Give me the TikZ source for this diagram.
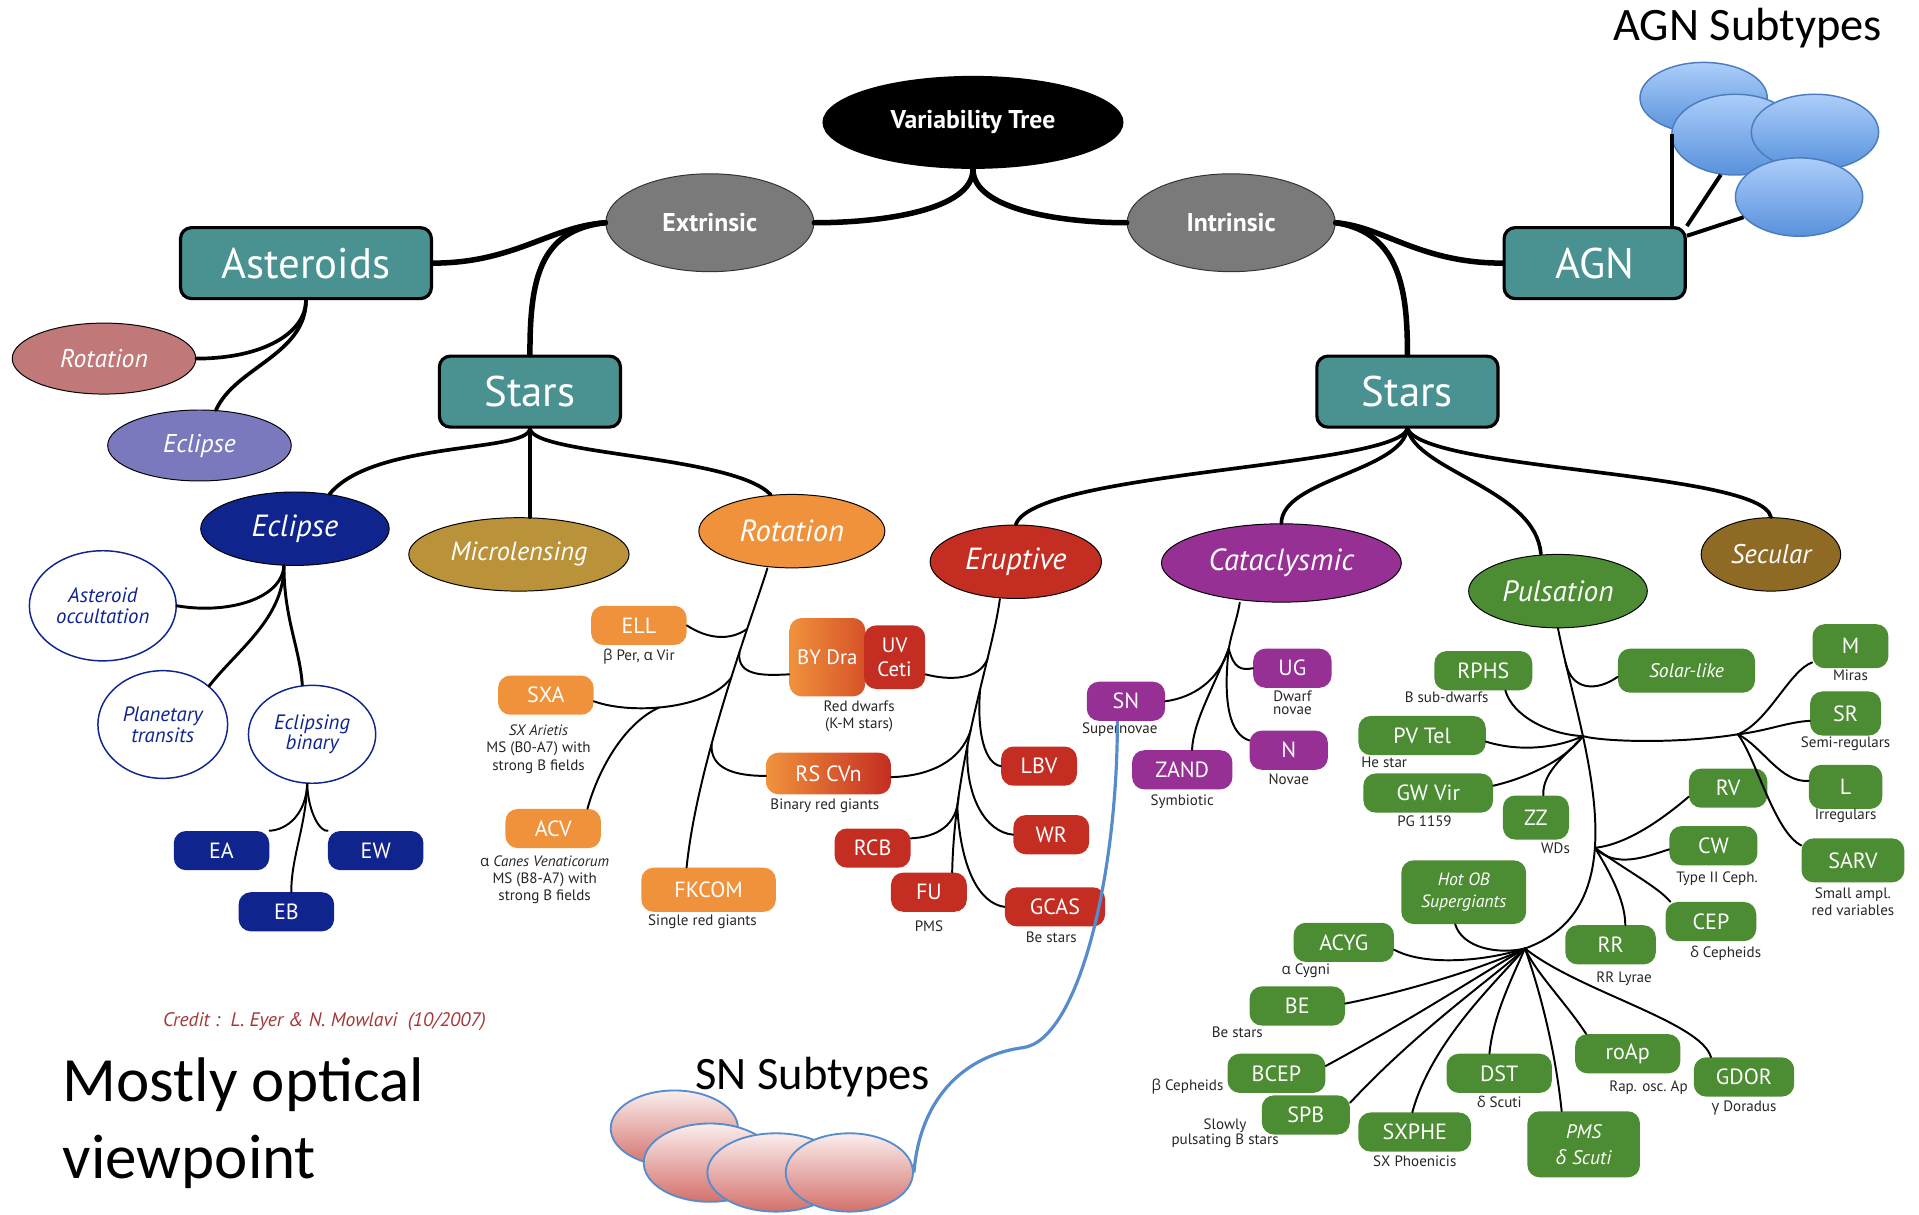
\documentclass[tikz,border=0pt]{standalone}
\usepackage{fontspec}
\setmainfont{PT Sans}
\newfontfamily\calib{Carlito}
\newfontfamily\grk{Open Sans}
\usetikzlibrary{positioning, shapes.geometric}

\definecolor{azulverde}{RGB}{74,145,145}
\definecolor{gris}{RGB}{122,122,122}
\definecolor{rosa}{RGB}{192,120,120}
\definecolor{lila}{RGB}{123,121,190}
\definecolor{marino}{RGB}{16,36,142}
\definecolor{oro}{RGB}{186,146,58}
\definecolor{naranja}{RGB}{240,146,60}
\definecolor{naranjarojo}{RGB}{214,82,40}
\definecolor{rojo}{RGB}{196,45,34}
\definecolor{morado}{RGB}{150,48,148}
\definecolor{verde}{RGB}{76,140,50}
\definecolor{cafe}{RGB}{142,106,36}
\definecolor{azulsn}{RGB}{86,140,204}
\definecolor{credito}{RGB}{165,55,55}
\definecolor{celeste}{RGB}{172,206,250}
\definecolor{celeste2}{RGB}{88,145,220}
\definecolor{bordeagn}{RGB}{75,125,190}
\definecolor{rosaclaro}{RGB}{250,238,238}
\definecolor{rosaosc}{RGB}{212,112,106}

\newcommand{\fsz}[1]{\fontsize{#1}{#1}\selectfont}
\newcommand{\fszl}[2]{\fontsize{#1}{#2}\selectfont}

\begin{document}
\begin{tikzpicture}[x=1pt, y=-1pt,
    raiz/.style={ellipse, fill=black, text=white, inner sep=0,
        minimum width=246, minimum height=76, font=\fsz{21}\bfseries},
    tipo/.style={ellipse, fill=gris, draw=black!80, line width=0.8, text=white,
        inner sep=0, minimum width=170, minimum height=80, font=\fsz{21}\bfseries},
    caja/.style={rectangle, rounded corners=9, fill=azulverde, draw=black,
        line width=2.6, text=white, inner sep=0, minimum width=148,
        minimum height=58, font=\fsz{35}},
    clase/.style={ellipse, draw=black, line width=0.8, text=white, inner sep=0,
        minimum height=60, font=\fsz{25}\itshape},
    blanca/.style={ellipse, draw=marino, line width=1.2, fill=white, text=marino,
        inner sep=0, align=center, font=\fszl{17}{17}\itshape},
    hoja/.style={rectangle, rounded corners=10, text=white, inner sep=2,
        minimum height=32, align=center, font=\fsz{18}},
    hojaN/.style={hoja, fill=marino},
    hojaO/.style={hoja, fill=naranja},
    hojaR/.style={hoja, fill=rojo},
    hojaM/.style={hoja, fill=morado},
    hojaV/.style={hoja, fill=verde},
    nota/.style={font=\fszl{12.3}{14}, text=black!85, align=center, inner sep=0},
    agnsub/.style={ellipse, draw=bordeagn, line width=1.2, top color=celeste,
        bottom color=celeste2, minimum width=104, minimum height=62},
    snsub/.style={ellipse, draw=azulsn, line width=1.5, top color=rosaclaro,
        bottom color=rosaosc, minimum width=104, minimum height=64},
    tronco/.style={line width=4.5, line cap=round},
    brazo/.style={line width=3, line cap=round},
    medio/.style={line width=2.4, line cap=round},
    fino/.style={line width=1.6, line cap=round},
    agnlink/.style={line width=3.2},
    snlink/.style={line width=2.6, draw=azulsn}
]
\useasboundingbox (0,0) rectangle (1568,992);

% Nodos
\node[raiz] (arbol) at (795,100) {Variability Tree};
\node[tipo] (extr) at (580,182) {Extrinsic};
\node[tipo] (intr) at (1006,182) {Intrinsic};
\node[caja, minimum width=205] (asteroides) at (250,215) {Asteroids};
\node[caja] (estrellasA) at (433,320) {Stars};
\node[caja] (estrellasB) at (1150,320) {Stars};
\node[caja] (agn) at (1303,215) {AGN};

% subtipos AGN
\node[agnsub, minimum height=58] (agn1) at (1392,80) {};
\node[agnsub, minimum height=66] (agn2) at (1418,110) {};
\node[agnsub, minimum height=62] (agn3) at (1483,108) {};
\node[agnsub, minimum height=64] (agn4) at (1470,161) {};
\node[font=\calib\fsz{38}, anchor=base] (agntit) at (1428,33) {AGN Subtypes};

% asteroides
\node[clase, fill=rosa, minimum width=150, minimum height=58, font=\fsz{21}\itshape] (astrot) at (85,293) {Rotation};
\node[clase, fill=lila, minimum width=150, minimum height=58, font=\fsz{21}\itshape] (astecl) at (163,364) {Eclipse};

% clases
\node[clase, fill=marino, minimum width=154] (eclipse) at (241,432) {Eclipse};
\node[clase, fill=oro, minimum width=180, font=\fsz{21.5}\itshape] (micro) at (424,453) {Microlensing};
\node[clase, fill=naranja, minimum width=152] (rotacion) at (647,434) {Rotation};
\node[clase, fill=rojo, minimum width=140] (eruptiva) at (830,459) {Eruptive};
\node[clase, fill=morado, minimum width=196, minimum height=64] (catacl) at (1047,460) {Cataclysmic};
\node[clase, fill=verde, minimum width=146, font=\fsz{24}\itshape] (pulsacion) at (1273,483) {Pulsation};
\node[clase, fill=cafe, minimum width=114, font=\fsz{22}\itshape] (secular) at (1447,453) {Secular};

% eclipses
\node[blanca, minimum width=120, minimum height=90] (ocult) at (84,495) {Asteroid\\occultation};
\node[blanca, minimum width=106, minimum height=88] (transito) at (133,592) {Planetary\\transits};
\node[blanca, minimum width=104, minimum height=80] (binaria) at (255,600) {Eclipsing\\binary};
\node[hojaN, minimum width=78] (ea) at (181,695) {EA};
\node[hojaN, minimum width=78] (ew) at (307,695) {EW};
\node[hojaN, minimum width=78] (eb) at (234,745) {EB};

% rotacion
\node[hojaO, minimum width=78] (ell) at (522,511) {ELL};
\node[hojaO, minimum width=78] (sxa) at (446,568) {SXA};
\node[hojaO, minimum width=78] (acv) at (452,677) {ACV};
\node[hojaO, minimum width=110, minimum height=36] (fkcom) at (579,727) {FKCOM};
\node[hoja, left color=naranja, right color=naranjarojo, minimum width=62, minimum height=64, font=\fsz{17}] (bydra) at (676,537) {BY Dra};
\node[hojaR, minimum width=50, minimum height=52, font=\fszl{17}{20}] (uvceti) at (731,537) {UV\\Ceti};
\node[hoja, left color=naranja, right color=rojo, minimum width=102, minimum height=34] (rscvn) at (677,632) {RS CVn};
\node[nota, below=3pt of ell] {{\grk β} Per, {\grk α} Vir};
\node[nota, below=3pt of bydra, xshift=26pt] {Red dwarfs\\(K-M stars)};
\node[nota, below=8pt of sxa, xshift=-6pt] {\itshape SX Arietis\\MS (B0-A7) with\\strong B fields};
\node[nota, below=3pt of rscvn, xshift=-3pt] {Binary red giants};
\node[nota, below=6pt of acv, xshift=-7pt] {{\grk α} \itshape Canes Venaticorum\\MS (B8-A7) with\\strong B fields};
\node[nota, below=2pt of fkcom, xshift=-5pt] {Single red giants};

% eruptivas
\node[hojaR, minimum width=62] (lbv) at (849,626) {LBV};
\node[hojaR, minimum width=62] (wr) at (859,682) {WR};
\node[hojaR, minimum width=62] (rcb) at (713,693) {RCB};
\node[hojaR, minimum width=62] (fu) at (759,729) {FU};
\node[hojaR, minimum width=82] (gcas) at (862,741) {GCAS};
\node[nota, below=7pt of fu] {PMS};
\node[nota, below=4pt of gcas, xshift=-3pt] {Be stars};

% cataclismicas
\node[hojaM, minimum width=64] (ug) at (1056,546) {UG};
\node[hojaM, minimum width=64] (sn) at (920,573) {SN};
\node[hojaM, minimum width=64] (nova) at (1053,613) {N};
\node[hojaM, minimum width=82] (zand) at (966,629) {ZAND};
\node[nota, below=2pt of ug, font=\fszl{12.3}{10.5}] {Dwarf\\novae};
\node[nota, below=1pt of sn, xshift=-5pt] {Supernovae};
\node[nota, below=3pt of nova] {Novae};
\node[nota, below=4pt of zand] {Symbiotic};

% pulsantes
\node[hojaV, minimum width=80] (rphs) at (1212,548) {RPHS};
\node[hojaV, minimum width=112, minimum height=36, font=\fsz{16}\itshape] (solar) at (1378,548) {Solar-like};
\node[hojaV, minimum width=62, minimum height=36] (mira) at (1512,528) {M};
\node[hojaV, minimum width=104] (pvtel) at (1162,601) {PV Tel};
\node[hojaV, minimum width=58, minimum height=36] (semireg) at (1508,583) {SR};
\node[hojaV, minimum width=64] (rv) at (1412,644) {RV};
\node[hojaV, minimum width=60, minimum height=36] (irreg) at (1508,643) {L};
\node[hojaV, minimum width=106] (gwvir) at (1167,648) {GW Vir};
\node[hojaV, minimum width=54, minimum height=36] (zz) at (1255,668) {ZZ};
\node[hojaV, minimum width=72] (cw) at (1400,691) {CW};
\node[hojaV, minimum width=84, minimum height=36] (sarv) at (1514,703) {SARV};
\node[hojaV, minimum width=102, minimum height=52, font=\fszl{14.5}{18}\itshape] (hotob) at (1196,729) {Hot OB\\Supergiants};
\node[hojaV, minimum width=74] (cep) at (1398,753) {CEP};
\node[hojaV, minimum width=82] (acyg) at (1098,770) {ACYG};
\node[hojaV, minimum width=74] (rr) at (1316,772) {RR};
\node[hojaV, minimum width=78] (be) at (1060,822) {BE};
\node[hojaV, minimum width=86] (roap) at (1330,861) {roAp};
\node[hojaV, minimum width=80] (bcep) at (1043,877) {BCEP};
\node[hojaV, minimum width=86] (dst) at (1225,877) {DST};
\node[hojaV, minimum width=82] (gdor) at (1425,880) {GDOR};
\node[hojaV, minimum width=72] (spb) at (1067,911) {SPB};
\node[hojaV, minimum width=92] (sxphe) at (1156,925) {SXPHE};
\node[hojaV, minimum width=92, minimum height=54, font=\fszl{16}{21}\itshape] (pms) at (1294,935) {PMS\\{\grk δ} Scuti};
\node[nota, below=1pt of rphs, xshift=-30pt] {B sub-dwarfs};
\node[nota, below=1pt of mira] {Miras};
\node[nota, below=1pt of pvtel, xshift=-31pt] {He star};
\node[nota, below=1pt of semireg] {Semi-regulars};
\node[nota, below=0pt of irreg] {Irregulars};
\node[nota, below=2pt of gwvir, xshift=-3pt] {PG 1159};
\node[nota, below=2pt of zz, xshift=16pt] {WDs};
\node[nota, below=5pt of cw, xshift=3pt] {Type II Ceph.};
\node[nota, below=4pt of sarv] {Small ampl.\\red variables};
\node[nota, below=4pt of cep, xshift=12pt] {{\grk δ} Cepheids};
\node[nota, below=1pt of acyg, xshift=-31pt] {{\grk α} Cygni};
\node[nota, below=6pt of rr, xshift=11pt] {RR Lyrae};
\node[nota, below=1pt of be, xshift=-49pt] {Be stars};
\node[nota, below=6pt of roap, xshift=17pt] {Rap. osc.\ Ap};
\node[nota, left=3pt of bcep, yshift=-11pt] {{\grk β} Cepheids};
\node[nota, below=2pt of dst] {{\grk δ} Scuti};
\node[nota, below=3pt of gdor] {{\grk γ} Doradus};
\node[nota, font=\fszl{12.3}{12}] (lentas) at (1001,926) {Slowly\\pulsating B stars};
\node[nota, below=3pt of sxphe] {SX Phoenicis};

% subtipos SN
\node[snsub, minimum height=62] (sn1) at (551,922) {};
\node[snsub, minimum width=108] (sn2) at (580,950) {};
\node[snsub, minimum width=112] (sn3) at (634,958) {};
\node[snsub] (sn4) at (694,958) {};
\node[font=\calib\fsz{38}, anchor=base] (sntit) at (664,890) {SN Subtypes};

% textos sueltos
\node[font=\fsz{16}\itshape, text=credito, anchor=base west, inner sep=0] (credito) at (133,839) {Credit :\ \ L. Eyer \& N. Mowlavi\ \ (10/2007)};
\node[font=\calib\fszl{51.5}{63}, align=left, anchor=north west, inner sep=0] (vista) at (51,864) {Mostly optical\\viewpoint};

% Conexiones principales
\draw[tronco] (arbol.south) .. controls (795,172) and (720,182) .. (extr.east);
\draw[tronco] (arbol.south) .. controls (795,172) and (870,182) .. (intr.west);
\draw[tronco] (extr.west) .. controls (450,185) and (420,215) .. (asteroides.east);
\draw[tronco] (extr.west) .. controls (440,188) and (433,230) .. (estrellasA.north);
\draw[tronco] (intr.east) .. controls (1130,185) and (1160,215) .. (agn.west);
\draw[tronco] (intr.east) .. controls (1145,190) and (1150,240) .. (estrellasB.north);

% AGN
\draw[agnlink] ([xshift=-12pt]agn.north east) -- ([xshift=-12pt]agn.north east |- agn1.south);
\draw[agnlink] (agn.north east) -- (agn2.250);
\draw[agnlink] ([yshift=-8pt]agn.north east) -- (agn4.200);

% asteroides y estrellas
\draw[brazo] (asteroides.south) .. controls (250,272) and (215,293) .. (astrot.east);
\draw[brazo] (asteroides.south) .. controls (250,290) and (192,300) .. (astecl.65);
\draw[brazo] (estrellasA.south) .. controls (431,370) and (305,360) .. (eclipse.45);
\draw[brazo] (estrellasA.south) -- (estrellasA.south |- micro.north);
\draw[brazo] (estrellasA.south) .. controls (436,372) and (600,372) .. (rotacion.120);
\draw[brazo] (estrellasB.south) .. controls (1140,382) and (845,385) .. (eruptiva.north);
\draw[brazo] (estrellasB.south) .. controls (1145,385) and (1047,392) .. (catacl.north);
\draw[brazo] (estrellasB.south) .. controls (1158,385) and (1255,400) .. ([xshift=-14pt]pulsacion.north);
\draw[brazo] (estrellasB.south) .. controls (1165,385) and (1440,385) .. (secular.north);

% eclipses
\draw[medio] ([xshift=-9pt]eclipse.south) .. controls (230,490) and (185,502) .. (ocult.east);
\draw[medio] ([xshift=-9pt]eclipse.south) .. controls (232,505) and (195,530) .. (transito.north east);
\draw[medio] ([xshift=-9pt]eclipse.south) .. controls (232,505) and (245,530) .. ([xshift=-8pt]binaria.north);
\draw[fino] ([xshift=-4pt]binaria.south) .. controls (250,665) and (235,678) .. (ea.north east);
\draw[fino] ([xshift=-4pt]binaria.south) .. controls (252,665) and (262,680) .. (ew.north west);
\draw[fino] ([xshift=-4pt]binaria.south) .. controls (250,675) and (238,700) .. ([xshift=4pt]eb.north);

% rotacion
\draw[fino] ([xshift=-20pt]rotacion.south) .. controls (618,495) and (570,620) .. ([xshift=-18pt]fkcom.north)
    coordinate[pos=.3] (o1) coordinate[pos=.38] (o2) coordinate[pos=.46] (o3) coordinate[pos=.65] (o4);
\draw[fino] (o1) .. controls (596,524) and (578,522) .. (ell.east);
\draw[fino] (o2) .. controls (602,553) and (625,552) .. ([yshift=-14pt]bydra.west);
\draw[fino] (o3) .. controls (578,580) and (515,584) .. ([yshift=-5pt]sxa.east) coordinate[pos=.55] (o5);
\draw[fino] (o5) .. controls (512,590) and (490,625) .. ([xshift=28pt]acv.north);
\draw[fino] (o4) .. controls (580,628) and (600,634) .. ([yshift=-2pt]rscvn.west);

% eruptivas
\draw[fino] ([xshift=-13pt]eruptiva.south) .. controls (810,540) and (780,620) .. ([xshift=19pt]fu.north)
    coordinate[pos=.28] (r1) coordinate[pos=.4] (r2) coordinate[pos=.55] (r3)
    coordinate[pos=.6] (r4) coordinate[pos=.77] (r5) coordinate[pos=.8] (r6);
\draw[fino] (r1) .. controls (800,556) and (775,556) .. ([yshift=-14pt]uvceti.east);
\draw[fino] (r2) .. controls (798,600) and (805,624) .. (lbv.west);
\draw[fino] (r3) .. controls (785,622) and (760,634) .. ([yshift=-3pt]rscvn.east);
\draw[fino] (r4) .. controls (788,650) and (805,680) .. (wr.west);
\draw[fino] (r5) .. controls (782,675) and (765,684) .. ([yshift=8pt]rcb.east);
\draw[fino] (r6) .. controls (785,710) and (800,738) .. (gcas.west);

% cataclismicas
\coordinate (cj) at (1004,530);
\draw[fino] ([xshift=-34pt]catacl.south) .. controls (1011,505) and (1006,518) .. (cj);
\draw[fino] (cj) .. controls (1008,546) and (1014,548) .. (ug.west);
\draw[fino] (cj) .. controls (996,556) and (975,570) .. (sn.east);
\draw[fino] (cj) .. controls (990,565) and (975,590) .. ([xshift=8pt]zand.north);
\draw[fino] (cj) .. controls (999,575) and (1005,600) .. ([yshift=8pt]nova.west);

% pulsantes
\coordinate (lj) at (1246,775);
\coordinate (rj) at (1420,600);
\draw[fino] (pulsacion.south) .. controls (1290,600) and (1345,740) .. (lj)
    coordinate[pos=.1] (p1) coordinate[pos=.3] (p2) coordinate[pos=.6] (p3);
\draw[fino] (p1) .. controls (1284,565) and (1305,565) .. ([yshift=-5pt]solar.west);
\draw[fino] ([xshift=18pt]rphs.south) .. controls (1236,585) and (1265,600) .. (p2);
\draw[fino] ([yshift=-5pt]pvtel.east) .. controls (1240,614) and (1270,612) .. (p2);
\draw[fino] ([yshift=6pt]gwvir.east) .. controls (1250,635) and (1280,620) .. (p2);
\draw[fino] ([xshift=6pt]zz.north) .. controls (1260,630) and (1282,615) .. (p2);
\draw[fino] (p2) .. controls (1310,606) and (1370,608) .. (rj);
\draw[fino] (rj) .. controls (1445,590) and (1462,548) .. ([yshift=5pt]mira.south west);
\draw[fino] (rj) .. controls (1445,597) and (1460,590) .. ([yshift=-6pt]semireg.west);
\draw[fino] (rj) .. controls (1440,610) and (1455,640) .. ([yshift=5pt]irreg.west);
\draw[fino] (rj) .. controls (1435,620) and (1450,680) .. ([yshift=-6pt]sarv.north west);
\draw[fino] (p3) .. controls (1330,690) and (1360,668) .. ([yshift=-7pt]rv.west);
\draw[fino] (p3) .. controls (1320,710) and (1345,700) .. ([yshift=-3pt]cw.west);
\draw[fino] (p3) .. controls (1330,712) and (1355,725) .. ([xshift=4pt]cep.north west);
\draw[fino] (p3) .. controls (1320,720) and (1328,740) .. ([xshift=12pt]rr.north);
\draw[fino] ([xshift=-7pt]hotob.south) .. controls (1195,775) and (1225,780) .. (lj);
\draw[fino] ([yshift=-6pt]acyg.east) .. controls (1165,790) and (1215,785) .. (lj);
\draw[fino] ([yshift=2pt]be.east) .. controls (1150,810) and (1215,790) .. (lj);
\draw[fino] ([yshift=6pt]bcep.east) .. controls (1150,835) and (1220,790) .. (lj);
\draw[fino] ([yshift=10pt]spb.east) .. controls (1160,840) and (1225,795) .. (lj);
\draw[fino] ([xshift=-2pt]sxphe.north) .. controls (1170,850) and (1225,800) .. (lj);
\draw[fino] ([xshift=-8pt]dst.north) .. controls (1220,830) and (1235,800) .. (lj);
\draw[fino] ([xshift=-18pt]pms.north) .. controls (1270,850) and (1255,800) .. (lj);
\draw[fino] ([xshift=-34pt]roap.north) .. controls (1280,820) and (1255,795) .. (lj);
\draw[fino] ([xshift=-27pt]gdor.north) .. controls (1390,835) and (1290,810) .. (lj);

% enlace SN
\coordinate (snq) at (836,856);
\draw[snlink] ([xshift=-7pt]sn.south) .. controls (913,720) and (880,850) .. (snq)
    .. controls (790,862) and (752,895) .. (sn4.east);

\end{tikzpicture}
\end{document}
